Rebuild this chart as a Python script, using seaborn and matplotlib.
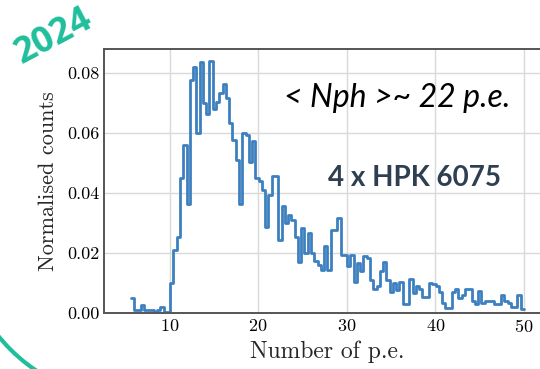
import numpy as np
import pandas as pd
import matplotlib
matplotlib.use("Agg")
import matplotlib.pyplot as plt
from matplotlib.patches import Arc
from matplotlib.ticker import MultipleLocator, FormatStrFormatter
import seaborn as sns

# histogram: 120 bins from 5.63 to 50.0 p.e., normalised heights
bin_lo = 5.63
bin_hi = 50.0
counts = [
    0.0050, 0.0012, 0.0012, 0.0029, 0.0012, 0.0012, 0.0012, 0.0005, 0.0012, 0.0022,
    0.0006, 0.0006, 0.0102, 0.0210, 0.0253, 0.0450, 0.0562, 0.0366, 0.0777, 0.0820,
    0.0600, 0.0838, 0.0700, 0.0666, 0.0840, 0.0682, 0.0704, 0.0735, 0.0766, 0.0716,
    0.0635, 0.0577, 0.0510, 0.0366, 0.0602, 0.0593, 0.0504, 0.0574, 0.0450, 0.0440,
    0.0410, 0.0288, 0.0395, 0.0457, 0.0457, 0.0243, 0.0357, 0.0300, 0.0327, 0.0310,
    0.0254, 0.0171, 0.0284, 0.0200, 0.0268, 0.0200, 0.0175, 0.0160, 0.0143, 0.0223,
    0.0144, 0.0277, 0.0277, 0.0316, 0.0195, 0.0195, 0.0157, 0.0193, 0.0104, 0.0167,
    0.0140, 0.0190, 0.0184, 0.0110, 0.0080, 0.0090, 0.0141, 0.0172, 0.0110, 0.0071,
    0.0100, 0.0079, 0.0105, 0.0030, 0.0030, 0.0113, 0.0066, 0.0090, 0.0080, 0.0056,
    0.0053, 0.0101, 0.0097, 0.0090, 0.0070, 0.0035, 0.0018, 0.0018, 0.0070, 0.0080,
    0.0050, 0.0060, 0.0080, 0.0080, 0.0040, 0.0030, 0.0075, 0.0035, 0.0040, 0.0040,
    0.0040, 0.0031, 0.0031, 0.0060, 0.0040, 0.0035, 0.0020, 0.0020, 0.0060, 0.0013,
]
x_ticks = [10, 20, 30, 40, 50]
y_ticks = [0.00, 0.02, 0.04, 0.06, 0.08]

edges = np.linspace(bin_lo, bin_hi, len(counts) + 1)
df = pd.DataFrame({"pe": 0.5 * (edges[:-1] + edges[1:]), "w": counts})

sns.set_style("whitegrid")
plt.rcParams["font.family"] = "serif"
plt.rcParams["font.serif"] = ["cmr10", "DejaVu Serif"]
plt.rcParams["axes.formatter.use_mathtext"] = True

fig = plt.figure(figsize=(5.4, 3.69), dpi=100)
ax = fig.add_axes([104 / 540, 55.7 / 369, 446 / 540, 264.3 / 369])

sns.histplot(data=df, x="pe", weights="w", bins=list(edges), element="step", fill=False,
             color="#3d80c0", linewidth=2, ax=ax)

ax.set_xlim(2.6, 2.6 + 446 / 8.86)
ax.set_ylim(0, 0.0881)
ax.set_xticks(x_ticks)
ax.set_yticks(y_ticks)
ax.xaxis.set_minor_locator(MultipleLocator(2))
ax.yaxis.set_minor_locator(MultipleLocator(0.005))
ax.yaxis.set_major_formatter(FormatStrFormatter("%.2f"))
ax.tick_params(which="both", direction="in", colors="#333333", labelcolor="black",
               labelsize=13, top=False, right=False)
ax.tick_params(which="major", length=6, width=1)
ax.tick_params(which="minor", length=3, width=0.8)
ax.grid(True, color="#d9d9d9", linewidth=1)
ax.set_axisbelow(True)
for side in ["left", "bottom", "top"]:
    ax.spines[side].set_color("#555555")
    ax.spines[side].set_linewidth(1.4)
ax.spines["right"].set_visible(False)

ax.set_xlabel("Number of p.e.", fontsize=17, labelpad=4)
ax.set_ylabel("Normalised counts", fontsize=16, labelpad=6)
ax.set_title("")

# slide decorations
fig.text(397 / 540, 1 - 107 / 369, "< Nph >~ 22 p.e.", family="Lato", style="italic",
         fontsize=23, ha="center", va="baseline", color="black")
fig.text(414 / 540, 1 - 186 / 369, "4 x HPK 6075", family="Lato", weight="bold",
         fontsize=20, ha="center", va="baseline", color="#2e3f52")
fig.text(54 / 540, 1 - 37 / 369, "2024", family="Open Sans", weight="bold",
         fontsize=26, ha="center", va="center", rotation=28, color="#1fbf9b")
arc = Arc((130, 139), 338, 338, theta1=195, theta2=255, transform=None,
          color="#1fbf9b", linewidth=3)
fig.patches.append(arc)

fig.savefig("out.png", dpi=100)
